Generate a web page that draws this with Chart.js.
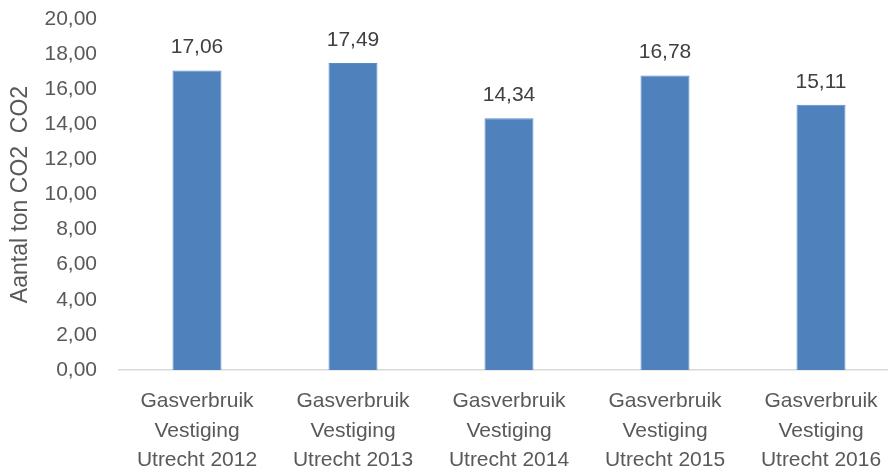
<!DOCTYPE html>
<html>
<head>
<meta charset="utf-8">
<script src="https://cdn.jsdelivr.net/npm/chart.js@4"></script>
<style>
    html, body { margin: 0; padding: 0; background: #fff; overflow: hidden; }
    #wrap { width: 900px; height: 471px; }
</style>
</head>
<body>
<div id="wrap"><canvas id="barChart" width="900" height="471"></canvas></div>
<script>
"use strict";

// gegevens uit de grafiek
const categories = [
    ['Gasverbruik', 'Vestiging', 'Utrecht 2012'],
    ['Gasverbruik', 'Vestiging', 'Utrecht 2013'],
    ['Gasverbruik', 'Vestiging', 'Utrecht 2014'],
    ['Gasverbruik', 'Vestiging', 'Utrecht 2015'],
    ['Gasverbruik', 'Vestiging', 'Utrecht 2016']
];
const co2Values = [17.06, 17.49, 14.34, 16.78, 15.11];
const yTicks = [0, 2, 4, 6, 8, 10, 12, 14, 16, 18, 20];
const yTitle = 'Aantal ton CO2  CO2';

const FONT = "'Liberation Sans', Arial, sans-serif";

/**
 * Schrijft de waarde boven elke staaf (komma als decimaalteken)
 */
const valueLabels = {
    id: 'valueLabels',
    afterDatasetsDraw(chart) {
        const ctx = chart.ctx;
        const meta = chart.getDatasetMeta(0);
        ctx.save();
        ctx.font = '21px ' + FONT;
        ctx.fillStyle = '#404040';
        ctx.textAlign = 'center';
        ctx.textBaseline = 'middle';
        meta.data.forEach((bar, i) => {
            ctx.fillText(co2Values[i].toFixed(2).replace('.', ','), bar.x, bar.y - 23);
        });
        ctx.restore();
    }
};

const ctx = document.getElementById('barChart').getContext('2d');
new Chart(ctx, {
    type: 'bar',
    data: {
        labels: categories,
        datasets: [{
            data: co2Values,
            backgroundColor: '#4F81BD',
            borderColor: '#5B8BC4',
            borderWidth: 1,
            barPercentage: 0.314,
            categoryPercentage: 1
        }]
    },
    options: {
        responsive: false,
        animation: false,
        layout: { autoPadding: false, padding: { top: 19, right: 1, left: 0, bottom: 0 } },
        plugins: {
            legend: { display: false },
            tooltip: { enabled: false }
        },
        scales: {
            x: {
                grid: { display: false, drawTicks: false },
                border: { display: true, color: '#D9D9D9', width: 1.5 },
                ticks: {
                    color: '#595959',
                    font: { family: FONT, size: 21, lineHeight: 1.4 },
                    padding: 17,
                    maxRotation: 0,
                    autoSkip: false
                },
                afterFit: scale => { scale.height = 101; }
            },
            y: {
                min: 0,
                max: 20,
                grid: { display: false, drawTicks: false },
                border: { display: false },
                afterBuildTicks: scale => { scale.ticks = yTicks.map(v => ({ value: v })); },
                ticks: {
                    color: '#595959',
                    font: { family: FONT, size: 21 },
                    padding: 22,
                    callback: value => value.toFixed(2).replace('.', ',')
                },
                title: {
                    display: true,
                    text: yTitle,
                    color: '#595959',
                    font: { family: FONT, size: 23 },
                    padding: { top: 7, bottom: 0 }
                },
                // vaste breedte, en geen extra ruimte boven/onder door de tick-padding
                afterFit: scale => {
                    scale.width = 119;
                    scale.paddingTop = 0;
                    scale.paddingBottom = 0;
                }
            }
        }
    },
    plugins: [valueLabels]
});
</script>
</body>
</html>
